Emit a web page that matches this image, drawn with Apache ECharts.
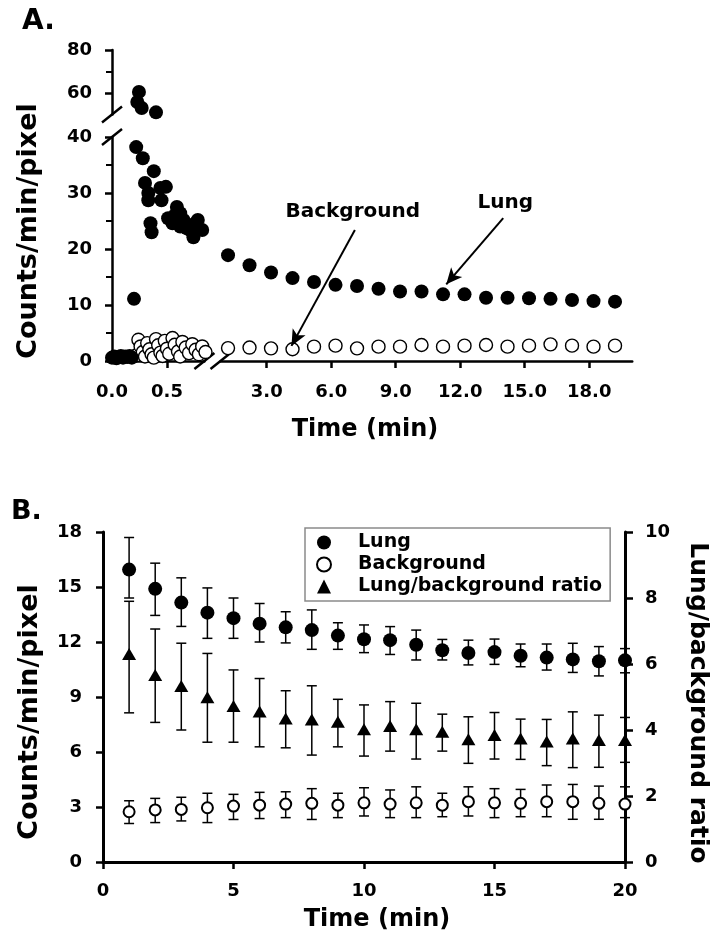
<!DOCTYPE html>
<html>
<head>
<meta charset="utf-8">
<script src="https://cdn.jsdelivr.net/npm/echarts@6/dist/echarts.min.js"></script>
<style>
  html, body { margin: 0; padding: 0; background: #fff; }
  #chart { width: 714px; height: 938px; }
</style>
</head>
<body>
<div id="chart"></div>
<script>
// ---- Panel A, first minute (0 - 0.85 min) ----
const earlyLungTime = [0.0, 0.02, 0.04, 0.06, 0.08, 0.10, 0.12, 0.14, 0.16, 0.18,
  0.20, 0.23, 0.245, 0.27, 0.40,
  0.22, 0.28, 0.38, 0.30, 0.33, 0.33, 0.44, 0.49, 0.45, 0.35, 0.36,
  0.59, 0.62, 0.51, 0.55, 0.65, 0.68, 0.74, 0.78, 0.82, 0.71, 0.62, 0.57, 0.75];
const earlyLungCounts = [0.6, 0.8, 0.5, 0.7, 0.9, 0.6, 0.8, 0.7, 0.9, 0.6,
  11.1, 55.8, 60.5, 53.0, 51.0,
  38.2, 36.2, 33.9, 31.8, 30.0, 28.7, 30.9, 31.1, 28.7, 24.6, 23.0,
  27.5, 26.4, 25.5, 24.6, 25.2, 23.7, 22.1, 25.2, 23.4, 23.4, 24.0, 26.0, 24.5];
const earlyBgTime = [0.22, 0.24, 0.26, 0.28, 0.30, 0.32, 0.34, 0.36, 0.38, 0.40,
  0.42, 0.44, 0.46, 0.48, 0.50, 0.52, 0.55, 0.57, 0.60, 0.62,
  0.64, 0.67, 0.70, 0.73, 0.76, 0.79, 0.82, 0.85];
const earlyBgCounts = [1.0, 3.8, 2.6, 1.6, 0.8, 3.2, 2.1, 1.2, 0.6, 3.9,
  2.8, 1.5, 0.9, 3.6, 2.2, 1.3, 4.1, 2.9, 1.7, 0.8,
  3.4, 2.4, 1.4, 3.0, 2.0, 1.2, 2.6, 1.6];

// ---- Panel A, 1 - 20 min ----
const lateTime = [1.2, 2.2, 3.2, 4.2, 5.2, 6.2, 7.2, 8.2, 9.2, 10.2,
  11.2, 12.2, 13.2, 14.2, 15.2, 16.2, 17.2, 18.2, 19.2];
const lateLung = [18.9, 17.1, 15.8, 14.8, 14.1, 13.6, 13.4, 12.9, 12.4, 12.4,
  11.9, 11.9, 11.3, 11.3, 11.2, 11.1, 10.9, 10.7, 10.6];
const lateBg = [2.3, 2.4, 2.26, 2.1, 2.56, 2.74, 2.26, 2.56, 2.56, 2.86,
  2.56, 2.74, 2.86, 2.56, 2.74, 2.97, 2.74, 2.56, 2.74];

const aLowTicks = [0, 10, 20, 30, 40];
const aLowMinor = [5, 15, 25, 35];
const aHighTicks = [60, 80];
const aHighMinor = [70];
const aEarlyTicks = [0.5];
const aEarlyLabels = [0, 0.5];
const aLateTicks = [3, 6, 9, 12, 15, 18];

// arrows in panel A, in data units of the 1-20 min part
const notes = [
  { text: 'Background', at: [7.0, 26.6], from: [7.1, 23.4], to: [4.15, 2.7] },
  { text: 'Lung', at: [14.1, 28.2], from: [14.0, 25.5], to: [11.35, 13.7] }
];

// ---- Panel B ----
const minutes = [1, 2, 3, 4, 5, 6, 7, 8, 9, 10, 11, 12, 13, 14, 15, 16, 17, 18, 19, 20];
const lungMean = [15.95, 14.9, 14.15, 13.6, 13.3, 13.0, 12.8, 12.65, 12.35, 12.15,
  12.1, 11.85, 11.55, 11.4, 11.45, 11.25, 11.15, 11.05, 10.95, 11.0];
const lungHigh = [17.7, 16.3, 15.5, 14.95, 14.4, 14.1, 13.65, 13.75, 13.05, 12.93,
  12.84, 12.65, 12.14, 12.1, 12.16, 11.89, 11.89, 11.93, 11.75, 11.64];
const lungLow = [14.4, 13.45, 12.85, 12.2, 12.2, 12.0, 11.95, 11.6, 11.6, 11.42,
  11.32, 11.02, 11.02, 10.75, 10.78, 10.65, 10.47, 10.34, 10.15, 10.32];
const bgMean = [2.74, 2.84, 2.87, 2.96, 3.05, 3.1, 3.16, 3.2, 3.1, 3.23,
  3.16, 3.23, 3.1, 3.29, 3.23, 3.2, 3.29, 3.29, 3.2, 3.16];
const bgHigh = [3.34, 3.47, 3.53, 3.75, 3.69, 3.8, 3.83, 4.0, 3.75, 4.05,
  3.93, 4.1, 3.75, 4.1, 4.0, 3.96, 4.2, 4.23, 4.14, 4.1];
const bgLow = [2.1, 2.15, 2.24, 2.15, 2.32, 2.37, 2.42, 2.32, 2.42, 2.51,
  2.42, 2.42, 2.47, 2.51, 2.42, 2.47, 2.47, 2.33, 2.33, 2.42];
const ratioMean = [6.3, 5.67, 5.33, 4.99, 4.73, 4.56, 4.35, 4.32, 4.25, 4.02,
  4.12, 4.02, 3.95, 3.72, 3.85, 3.74, 3.65, 3.74, 3.7, 3.7];
const ratioHigh = [7.9, 7.06, 6.63, 6.32, 5.82, 5.56, 5.19, 5.34, 4.93, 4.76,
  4.86, 4.81, 4.48, 4.4, 4.53, 4.33, 4.32, 4.55, 4.45, 4.38];
const ratioLow = [4.52, 4.23, 4.0, 3.63, 3.63, 3.49, 3.46, 3.24, 3.49, 3.21,
  3.36, 3.12, 3.36, 2.99, 3.12, 3.11, 2.92, 2.86, 2.87, 3.02];

const FONT = 'DejaVu Sans';
const black = '#000';

// layout (px)
const A = { x0: 112, yBottom: 361, lowTop: 137, highTop: 50, highH: 64.5,
  earlyW: 0.84 * 110, lateLeft: 220.5, lateW: 19.15 * 21.5 };
const B = { left: 103, top: 532, width: 522, height: 330 };

const chart = echarts.init(document.getElementById('chart'));

const zip = (xs, ys) => xs.map((x, i) => [x, ys[i]]);
const fmt1 = v => Number(v).toFixed(1);

function tickLabel(extra) {
  return Object.assign({ color: black, fontFamily: FONT, fontWeight: 'bold', fontSize: 18 }, extra);
}
function lineStyle(w) { return { color: black, width: w }; }

function errorBar(params, api) {
  const x = api.value(0);
  const lo = api.coord([x, api.value(1)]);
  const hi = api.coord([x, api.value(2)]);
  const h = 5;
  const style = { stroke: black, lineWidth: 1.5 };
  return {
    type: 'group',
    children: [
      { type: 'line', shape: { x1: lo[0], y1: lo[1], x2: hi[0], y2: hi[1] }, style },
      { type: 'line', shape: { x1: lo[0] - h, y1: lo[1], x2: lo[0] + h, y2: lo[1] }, style },
      { type: 'line', shape: { x1: hi[0] - h, y1: hi[1], x2: hi[0] + h, y2: hi[1] }, style }
    ]
  };
}

const lowH = A.yBottom - A.lowTop;
const grids = [
  { left: A.x0, top: A.lowTop, width: A.earlyW, height: lowH },
  { left: A.x0, top: A.highTop, width: A.earlyW, height: A.highH },
  { left: A.lateLeft, top: A.lowTop, width: A.lateW, height: lowH },
  { left: B.left, top: B.top, width: B.width, height: B.height }
].map(g => Object.assign({ containLabel: false, outerBoundsMode: 'none', show: false }, g));

const openCircle = { color: '#fff', borderColor: black, borderWidth: 1.4, opacity: 1 };
const filled = { color: black, opacity: 1 };

// slashes on the broken axes of panel A
function slash(cx, cy) {
  return { type: 'line', shape: { x1: cx - 10, y1: cy + 8, x2: cx + 10, y2: cy - 8 },
    style: { stroke: black, lineWidth: 2.5 } };
}
function txt(text, x, y, size, rot, align) {
  return { type: 'text', x, y, rotation: rot || 0,
    style: { text, fill: black, font: 'bold ' + size + 'px "' + FONT + '"',
      align: align || 'center', verticalAlign: 'middle' } };
}

chart.setOption({
  animation: false,
  backgroundColor: '#fff',
  grid: grids,
  legend: {
    data: ['Lung', 'Background', 'Lung/background ratio'],
    orient: 'vertical',
    left: 305, top: 528,
    padding: [5, 8, 5, 11],
    itemGap: 3,
    itemWidth: 14, itemHeight: 14,
    borderColor: '#8a8a8a', borderWidth: 1.5,
    textStyle: { color: black, fontFamily: FONT, fontWeight: 'bold', fontSize: 19, padding: [0, 0, 0, 22] }
  },
  xAxis: [
    { gridIndex: 0, type: 'value', min: 0, max: 0.84, splitLine: { show: false },
      axisLine: { onZero: false, lineStyle: lineStyle(2.5) },
      axisTick: { customValues: aEarlyTicks, length: 7, lineStyle: lineStyle(2.5) },
      axisLabel: tickLabel({ customValues: aEarlyLabels, formatter: fmt1, margin: 22 }) },
    { gridIndex: 1, type: 'value', min: 0, max: 0.84, show: false },
    { gridIndex: 2, type: 'value', min: 0.85, max: 20, splitLine: { show: false },
      axisLine: { onZero: false, lineStyle: lineStyle(2.5) },
      axisTick: { customValues: aLateTicks, length: 7, lineStyle: lineStyle(2.5) },
      axisLabel: tickLabel({ customValues: aLateTicks, formatter: fmt1, margin: 22 }) },
    { gridIndex: 3, type: 'value', min: 0, max: 20, interval: 5, splitLine: { show: false },
      axisLine: { onZero: false, lineStyle: lineStyle(3) },
      axisTick: { length: 7, lineStyle: lineStyle(2.5) },
      axisLabel: tickLabel({ margin: 20 }) }
  ],
  yAxis: [
    { gridIndex: 0, type: 'value', min: 0, max: 40, splitLine: { show: false },
      axisLine: { onZero: false, lineStyle: lineStyle(2.5) },
      axisTick: { customValues: aLowTicks, length: 7, lineStyle: lineStyle(2.5) },
      axisLabel: tickLabel({ customValues: aLowTicks, margin: 20 }) },
    { gridIndex: 0, type: 'value', min: 0, max: 40, splitLine: { show: false },
      axisLine: { show: false },
      axisTick: { customValues: aLowMinor, inside: true, length: 6, lineStyle: lineStyle(2) },
      axisLabel: { show: false } },
    { gridIndex: 1, type: 'value', min: 50, max: 80, splitLine: { show: false },
      axisLine: { onZero: false, lineStyle: lineStyle(2.5) },
      axisTick: { customValues: aHighTicks, length: 7, lineStyle: lineStyle(2.5) },
      axisLabel: tickLabel({ customValues: aHighTicks, margin: 20 }) },
    { gridIndex: 1, type: 'value', min: 50, max: 80, splitLine: { show: false },
      axisLine: { show: false },
      axisTick: { customValues: aHighMinor, inside: true, length: 6, lineStyle: lineStyle(2) },
      axisLabel: { show: false } },
    { gridIndex: 2, type: 'value', min: 0, max: 40, show: false },
    { gridIndex: 3, type: 'value', min: 0, max: 18, interval: 3, position: 'left', splitLine: { show: false },
      axisLine: { onZero: false, lineStyle: lineStyle(3) },
      axisTick: { length: 7, lineStyle: lineStyle(2.5) },
      axisLabel: tickLabel({ margin: 21 }) },
    { gridIndex: 3, type: 'value', min: 0, max: 10, interval: 2, position: 'right', splitLine: { show: false },
      axisLine: { onZero: false, lineStyle: lineStyle(3) },
      axisTick: { length: 8, lineStyle: lineStyle(2.5) },
      axisLabel: tickLabel({ margin: 20 }) }
  ],
  series: [
    // panel A
    { type: 'scatter', xAxisIndex: 0, yAxisIndex: 0, clip: false, symbolSize: 13,
      itemStyle: openCircle, data: zip(earlyBgTime, earlyBgCounts) },
    { type: 'scatter', xAxisIndex: 0, yAxisIndex: 0, clip: false, symbolSize: 14,
      itemStyle: filled, data: zip(earlyLungTime, earlyLungCounts).filter(p => p[1] < 45) },
    { type: 'scatter', xAxisIndex: 1, yAxisIndex: 2, clip: false, symbolSize: 14,
      itemStyle: filled, data: zip(earlyLungTime, earlyLungCounts).filter(p => p[1] >= 45) },
    { type: 'scatter', xAxisIndex: 2, yAxisIndex: 4, clip: false, symbolSize: 13,
      itemStyle: openCircle, data: zip(lateTime, lateBg) },
    { type: 'scatter', xAxisIndex: 2, yAxisIndex: 4, clip: false, symbolSize: 14,
      itemStyle: filled, data: zip(lateTime, lateLung),
      markLine: {
        silent: true, symbol: ['none', 'arrow'], symbolSize: [11, 16],
        lineStyle: { color: black, width: 2, type: 'solid' }, label: { show: false },
        data: notes.map(n => [{ coord: n.from }, { coord: n.to }])
      },
      markPoint: {
        silent: true, symbol: 'circle', symbolSize: 0,
        label: { show: true, position: 'inside', formatter: '{b}', color: black,
          fontFamily: FONT, fontWeight: 'bold', fontSize: 20 },
        data: notes.map(n => ({ name: n.text, coord: n.at }))
      } },
    // panel B error bars
    { type: 'custom', xAxisIndex: 3, yAxisIndex: 5, renderItem: errorBar, z: 1,
      encode: { x: 0, y: [1, 2] }, data: minutes.map((m, i) => [m, lungLow[i], lungHigh[i]]) },
    { type: 'custom', xAxisIndex: 3, yAxisIndex: 5, renderItem: errorBar, z: 1,
      encode: { x: 0, y: [1, 2] }, data: minutes.map((m, i) => [m, bgLow[i], bgHigh[i]]) },
    { type: 'custom', xAxisIndex: 3, yAxisIndex: 6, renderItem: errorBar, z: 1,
      encode: { x: 0, y: [1, 2] }, data: minutes.map((m, i) => [m, ratioLow[i], ratioHigh[i]]) },
    // panel B markers
    { name: 'Lung', type: 'scatter', xAxisIndex: 3, yAxisIndex: 5, clip: false, z: 3,
      symbol: 'circle', symbolSize: 14, itemStyle: filled, data: zip(minutes, lungMean) },
    { name: 'Background', type: 'scatter', xAxisIndex: 3, yAxisIndex: 5, clip: false, z: 3,
      symbol: 'circle', symbolSize: 11,
      itemStyle: { color: '#fff', borderColor: black, borderWidth: 2, opacity: 1 },
      data: zip(minutes, bgMean) },
    { name: 'Lung/background ratio', type: 'scatter', xAxisIndex: 3, yAxisIndex: 6, clip: false, z: 3,
      symbol: 'triangle', symbolSize: [14, 12], itemStyle: filled, data: zip(minutes, ratioMean) }
  ],
  graphic: [
    txt('A.', 22, 22, 28, 0, 'left'),
    txt('B.', 11, 512, 27, 0, 'left'),
    txt('Counts/min/pixel', 29, 231, 27, Math.PI / 2),
    txt('Time (min)', 365, 430, 24),
    txt('Counts/min/pixel', 30, 712, 27, Math.PI / 2),
    txt('Time (min)', 377, 920, 24),
    txt('Lung/background ratio', 697, 703, 25, -Math.PI / 2),
    slash(A.x0, A.highTop + A.highH),
    slash(A.x0, A.lowTop),
    slash(A.x0 + A.earlyW, A.yBottom),
    slash(A.lateLeft, A.yBottom)
  ]
});
</script>
</body>
</html>
